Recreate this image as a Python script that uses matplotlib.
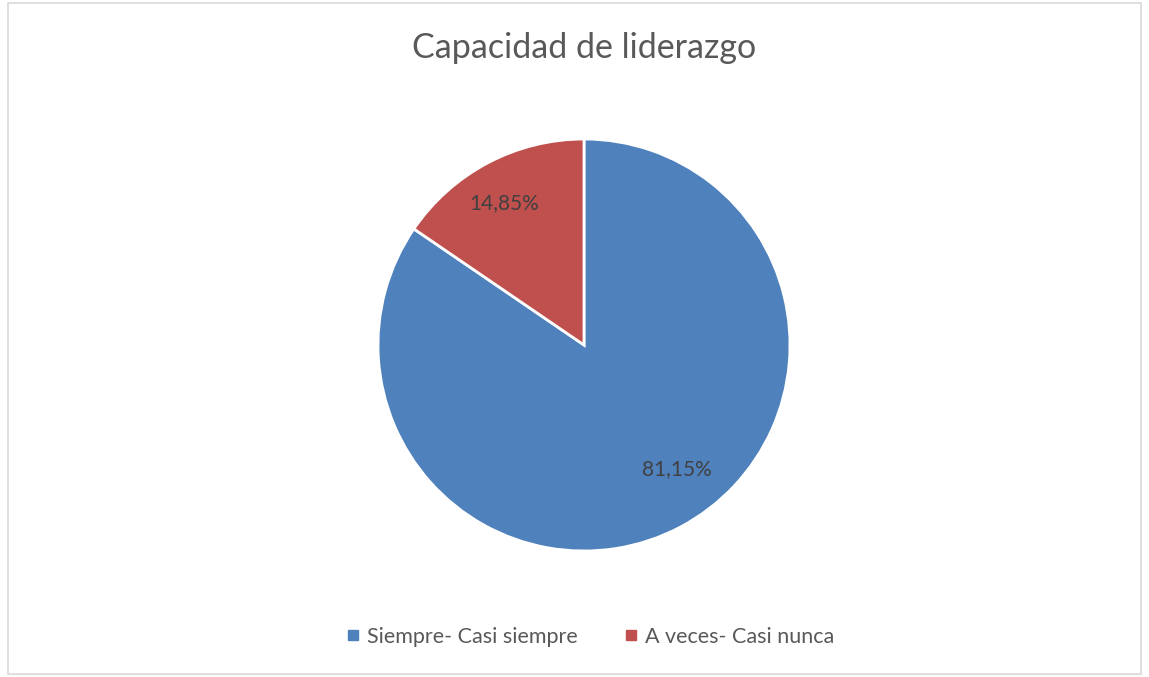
import matplotlib
matplotlib.use('Agg')
import matplotlib.pyplot as plt
from matplotlib.patches import Rectangle
from matplotlib.lines import Line2D

# data
categories = ['Siempre- Casi siempre', 'A veces- Casi nunca']
values = [81.15, 14.85]
value_labels = ['81,15%', '14,85%']
colors = ['#4F81BD', '#C0504D']
title = 'Capacidad de liderazgo'

plt.rcParams['font.family'] = ['Lato', 'DejaVu Sans']
text_color = '#595959'

W, H = 1149, 677
fig = plt.figure(figsize=(W / 100, H / 100), dpi=100)

# chart border
fig.add_artist(Rectangle((8 / W, 3 / H), (1141 - 8) / W, (674 - 3) / H,
                         transform=fig.transFigure, fill=False,
                         edgecolor='#D9D9D9', linewidth=1.2))

cx, cy, r = 584, 345, 206
ax = fig.add_axes([(cx - r) / W, (H - cy - r) / H, 2 * r / W, 2 * r / H])
wedges, _ = ax.pie(values, colors=colors, startangle=90, counterclock=False,
                   radius=1, wedgeprops=dict(edgecolor='white', linewidth=2))
ax.set_xlim(-1, 1)
ax.set_ylim(-1, 1)
ax.set_aspect('equal')
ax.axis('off')

# data labels (Excel best-fit positions)
label_pos = [(0.45, -0.60), (-0.39, 0.69)]
for (x, y), txt in zip(label_pos, value_labels):
    ax.text(x, y, txt, ha='center', va='center', fontsize=15, color='#404040')

fig.text(584 / W, 1 - 48 / H, title, ha='center', va='center',
         fontsize=24.5, color=text_color)

handles = [Line2D([], [], marker='s', linestyle='', markersize=7.5,
                  markerfacecolor=c, markeredgecolor=c) for c in colors]
fig.legend(handles, categories, loc='center', bbox_to_anchor=(589 / W, 1 - 637 / H),
           ncol=2, frameon=False, fontsize=15.5, handletextpad=0.2,
           columnspacing=2.0, handlelength=0.9, labelcolor=text_color)

fig.savefig('out.png', dpi=100)
